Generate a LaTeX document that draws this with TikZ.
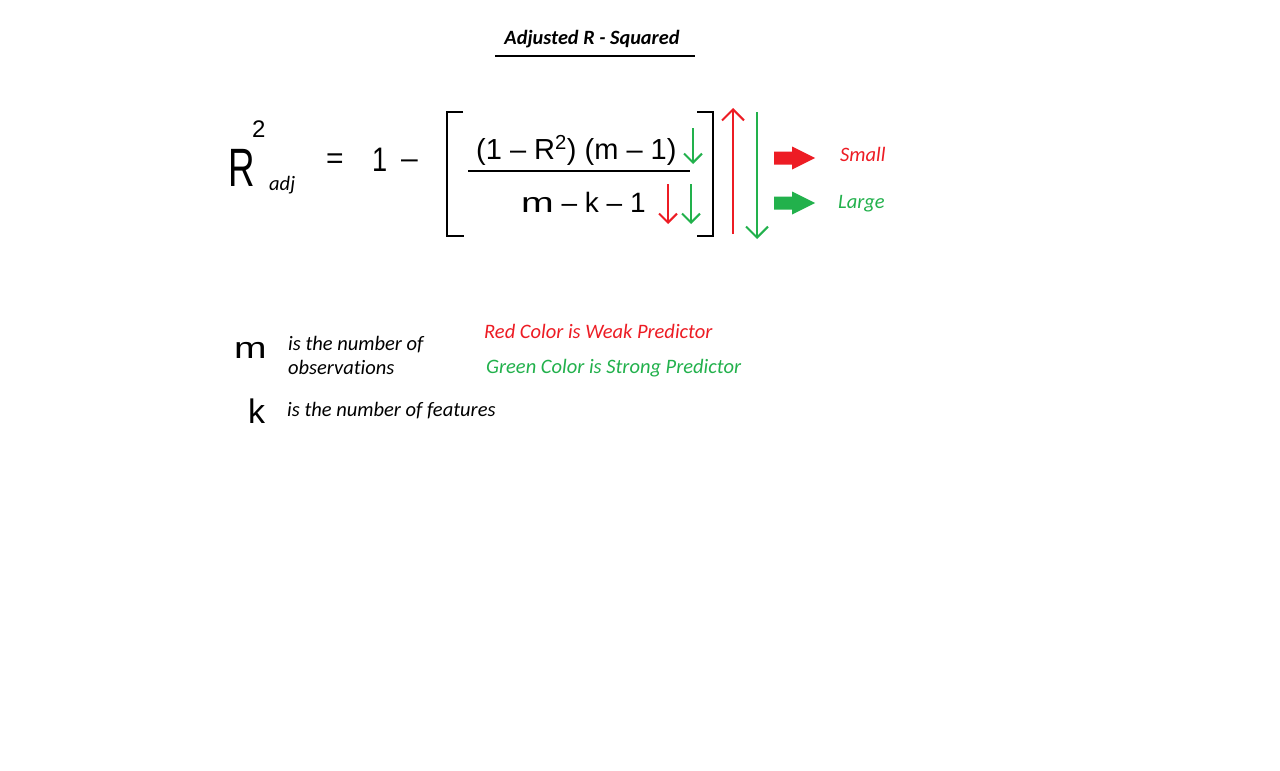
\documentclass[tikz,border=0pt]{standalone}
\usepackage{fontspec}
\setmainfont{Carlito}[Ligatures=NoCommon]
\newfontfamily\hand{Liberation Sans}
\usetikzlibrary{arrows.meta}
\definecolor{pred}{HTML}{ED1C24}
\definecolor{pgreen}{HTML}{22B14C}
\tikzset{
  lbl/.style={font=\fontsize{20.5}{24}\selectfont\itshape, inner sep=0, anchor=base west},
  hw/.style={font=\hand, inner sep=0, anchor=base west},
  bracket/.style={line width=2pt, line cap=butt},
  arr/.style={line width=2pt, -{Straight Barb[length=9pt,width=18pt,line width=2pt]}},
  bigarr/.style={line width=2pt, -{Straight Barb[length=11pt,width=22pt,line width=2pt]}},
  blockarrow/.pic={\fill[pic actions] (0,-6.5) -- (18,-6.5) -- (18,-11.5) -- (41,0) -- (18,11.5) -- (18,6.5) -- (0,6.5) -- cycle;}
}
\begin{document}
\begin{tikzpicture}[x=1pt,y=-1pt]
\fill[white] (0,0) rectangle (1280,771);
\useasboundingbox (0,0) rectangle (1280,771);

% title
\node[inner sep=0, anchor=base, font=\fontsize{20.3}{24}\selectfont\bfseries\itshape] (title) at (592,44) {Adjusted R - Squared};
\coordinate (ul1) at (495,56);
\coordinate (ul2) at (695,56);
\draw[line width=2.5pt] (ul1) -- (ul2);

% left-hand side
\node[hw, font=\hand\fontsize{54}{60}\selectfont] (R) at (228,186) {\scalebox{0.68}[1]{R}};
\node[hw, font=\hand\fontsize{24}{28}\selectfont] (sq) at (252,137) {2};
\node[lbl] (adj) at (269,190) {adj};
\node[hw, font=\hand\fontsize{30}{34}\selectfont] (eq) at (326,168) {=};
\node[hw, font=\hand\fontsize{34}{38}\selectfont] (one) at (372,171) {\scalebox{0.8}[1]{1}};
\node[hw, font=\hand\fontsize{30}{34}\selectfont] (minus) at (401,168) {\textendash};

% bracket
\coordinate (lb1) at (463,112);
\coordinate (lb2) at (447,112);
\coordinate (lb3) at (447,236);
\coordinate (lb4) at (464,236);
\draw[bracket] (lb1) -- (lb2) -- (lb3) -- (lb4);
\coordinate (rb1) at (697,112);
\coordinate (rb2) at (713,112);
\coordinate (rb3) at (713,236);
\coordinate (rb4) at (697,236);
\draw[bracket] (rb1) -- (rb2) -- (rb3) -- (rb4);

% fraction
\node[hw, font=\hand\fontsize{29}{32}\selectfont] (num) at (476,159) {(1 \textendash{} R\textsuperscript{2}) (m \textendash{} 1)};
\coordinate (fl1) at (468,171);
\coordinate (fl2) at (690,171);
\draw[line width=2pt] (fl1) -- (fl2);
\node[hw, font=\hand\fontsize{28}{32}\selectfont] (den) at (521,212) {\scalebox{1.4}[1]{m} \textendash{} k \textendash{} 1};

% small arrows
\coordinate (ga1) at (693,128);
\coordinate (ga2) at (693,164);
\draw[arr, pgreen] (ga1) -- (ga2);
\coordinate (ra1) at (668,184);
\coordinate (ra2) at (668,224);
\draw[arr, pred] (ra1) -- (ra2);
\coordinate (gb1) at (691,184);
\coordinate (gb2) at (691,224);
\draw[arr, pgreen] (gb1) -- (gb2);

% big arrows
\coordinate (bu1) at (733,234);
\coordinate (bu2) at (733,108);
\draw[bigarr, pred] (bu1) -- (bu2);
\coordinate (bd1) at (757,112);
\coordinate (bd2) at (757,239);
\draw[bigarr, pgreen] (bd1) -- (bd2);

% block arrows and labels
\pic[fill=pred] (ba1) at (774,158) {blockarrow};
\node[lbl, text=pred] (small) at (840,161) {Small};
\pic[fill=pgreen] (ba2) at (774,203) {blockarrow};
\node[lbl, text=pgreen] (large) at (838,208) {Large};

% legend
\node[hw, font=\hand\fontsize{30}{34}\selectfont] (m) at (234,358) {\scalebox{1.3}[1]{m}};
\node[lbl] (mtext1) at (288,350) {is the number of};
\node[lbl] (mtext2) at (288,374) {observations};
\node[hw, font=\hand\fontsize{34}{38}\selectfont] (k) at (248,423) {k};
\node[lbl] (ktext) at (287,416) {is the number of features};
\node[lbl, text=pred] (redtxt) at (484,338) {Red Color is Weak Predictor};
\node[lbl, text=pgreen] (greentxt) at (486,373) {Green Color is Strong Predictor};
\end{tikzpicture}
\end{document}
